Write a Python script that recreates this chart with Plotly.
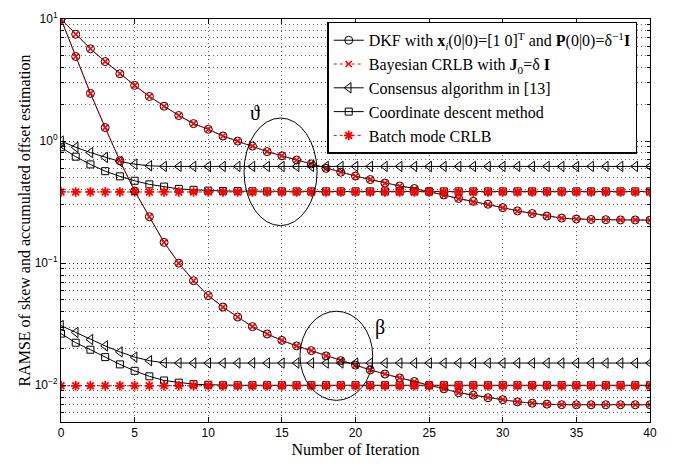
import plotly.graph_objects as go
import numpy as np

iters = list(range(0, 41))

# theta (skew) group
dkf_theta = [10, 7.5, 5.7, 4.48, 3.56, 2.86, 2.32, 1.93, 1.62, 1.39,
             1.25, 1.10, 1.0, 0.91, 0.82, 0.757, 0.70, 0.65, 0.598, 0.556,
             0.517, 0.484, 0.453, 0.429, 0.409, 0.387, 0.362, 0.339, 0.321, 0.304,
             0.285, 0.268, 0.255, 0.243, 0.234, 0.230, 0.228, 0.227, 0.226, 0.226, 0.225]
bcrlb_theta = [10, 7.5, 5.7, 4.48, 3.56, 2.86, 2.32, 1.93, 1.62, 1.39,
               1.25, 1.10, 1.0, 0.91, 0.82, 0.757, 0.70, 0.65, 0.598, 0.556,
               0.517, 0.484, 0.453, 0.429, 0.405, 0.385, 0.358, 0.336, 0.318, 0.302,
               0.284, 0.267, 0.254, 0.243, 0.234, 0.230, 0.228, 0.227, 0.226, 0.226, 0.225]
cons_theta = [1.0, 0.89, 0.805, 0.735, 0.68, 0.647, 0.628, 0.62] + [0.62] * 33
cd_theta = [0.89, 0.745, 0.644, 0.567, 0.514, 0.473, 0.442, 0.424, 0.406, 0.399,
            0.393, 0.390, 0.389, 0.388] + [0.387] * 27
batch_theta = [0.383] * 41

# beta (offset) group
dkf_beta = [10, 4.93, 2.46, 1.29, 0.69, 0.39, 0.24, 0.148, 0.100, 0.0718,
            0.0543, 0.0437, 0.0362, 0.0302, 0.0263, 0.0233, 0.0210, 0.0192, 0.0174, 0.0159,
            0.01462, 0.01336, 0.01236, 0.01148, 0.01074, 0.0100, 0.00935, 0.00869, 0.0083, 0.0079,
            0.00762, 0.00731, 0.00713, 0.0070, 0.00693, 0.00692, 0.00692, 0.00692, 0.00692, 0.00692, 0.00692]
bcrlb_beta = list(dkf_beta)
cons_beta = [0.0308, 0.0271, 0.0237, 0.0210, 0.01876, 0.0170, 0.0159, 0.01527] + [0.0152] * 33
cd_beta = [0.0265, 0.0223, 0.01955, 0.0170, 0.01482, 0.01313, 0.01183, 0.01094, 0.0105, 0.0102,
           0.0101] + [0.0100] * 30
batch_beta = [0.0099] * 41

y_tickvals = [0.01, 0.1, 1, 10]
y_ticktext = ["10<sup>−2</sup>", "10<sup>−1</sup>", "10<sup>0</sup>", "10<sup>1</sup>"]

serif = "Liberation Serif"
sans = "Liberation Sans"

fig = go.Figure()

def add(y, name, mode, line, marker, show):
    fig.add_trace(go.Scatter(x=iters, y=y, name=name, mode=mode, line=line,
                             marker=marker, showlegend=show, legendgroup=name))

lab_dkf = "DKF with <b>x</b><sub><i>i</i></sub>(0|0)=[1 0]<sup>T</sup> and <b>P</b>(0|0)=δ<sup>−1</sup><b>I</b>"
lab_bay = "Bayesian CRLB with <b>J</b><sub>0</sub>=δ <b>I</b>"
lab_con = "Consensus algorithm in [13]"
lab_cd = "Coordinate descent method"
lab_bat = "Batch mode CRLB"

blk = dict(color="black", width=1)
circ = dict(symbol="circle-open", size=8, color="black", line=dict(width=1))
tri = dict(symbol="triangle-left-open", size=9, color="black", line=dict(width=1))
sq = dict(symbol="square-open", size=7, color="black", line=dict(width=1))
xm = dict(symbol="x-thin-open", size=6, color="red", line=dict(width=1.6, color="red"))
ast = dict(symbol="asterisk-open", size=8, color="red", line=dict(width=1.8, color="red"))
red_dot = dict(color="red", width=1, dash="dot")

for grp, (dk, bc, co, cd, ba) in enumerate([(dkf_theta, bcrlb_theta, cons_theta, cd_theta, batch_theta),
                                             (dkf_beta, bcrlb_beta, cons_beta, cd_beta, batch_beta)]):
    show = grp == 0
    add(dk, lab_dkf, "lines+markers", blk, circ, show)
    add(bc, lab_bay, "lines+markers", red_dot, xm, show)
    add(co, lab_con, "lines+markers", blk, tri, show)
    add(cd, lab_cd, "lines+markers", blk, sq, show)
    add(ba, lab_bat, "lines+markers", red_dot, ast, show)

# ellipses and labels
fig.add_shape(type="circle", xref="x", yref="y", x0=12.43, x1=17.39, y0=0.203, y1=1.545,
              line=dict(color="black", width=1))
fig.add_shape(type="circle", xref="x", yref="y", x0=16.23, x1=21.17, y0=0.00752, y1=0.0404,
              line=dict(color="black", width=1))
fig.add_annotation(x=13.2, y=0.228, xref="x", yref="y", text="ϑ", showarrow=False,
                   font=dict(family=serif, size=20, color="black"))
fig.add_annotation(x=21.66, y=-1.525, xref="x", yref="y", text="β", showarrow=False,
                   font=dict(family=serif, size=20, color="black"))

gridc = "rgba(0,0,0,0.6)"
gdash = "1px,3px"
fig.update_xaxes(range=[0, 40], dtick=5, tick0=0, showline=True, mirror="allticks",
                 linecolor="black", linewidth=1, ticks="inside", ticklen=5, tickcolor="black",
                 showgrid=True, gridcolor=gridc, griddash=gdash, gridwidth=1, zeroline=False,
                 tickfont=dict(family=sans, size=12, color="black"),
                 title=dict(text="Number of Iteration", font=dict(family=serif, size=16, color="black"),
                            standoff=4))
fig.update_yaxes(type="log", range=[np.log10(0.005), 1], tickmode="array",
                 tickvals=y_tickvals, ticktext=y_ticktext,
                 showline=True, mirror="allticks", linecolor="black", linewidth=1,
                 ticks="inside", ticklen=5, tickcolor="black",
                 showgrid=True, gridcolor=gridc, griddash=gdash, gridwidth=1,
                 minor=dict(dtick="D1", ticks="inside", ticklen=3, tickcolor="black",
                            showgrid=True, gridcolor=gridc, griddash=gdash, gridwidth=1),
                 tickfont=dict(family=sans, size=12, color="black"),
                 title=dict(text="RAMSE of skew and accumulated offset estimation",
                            font=dict(family=serif, size=16, color="black"), standoff=0))

fig.update_layout(width=677, height=466, margin=dict(l=61, r=27, t=10, b=38),
                  plot_bgcolor="white", paper_bgcolor="white",
                  legend=dict(x=0.452, y=0.993, xanchor="left", yanchor="top",
                              bgcolor="white", bordercolor="black", borderwidth=1.5,
                              font=dict(family=serif, size=16, color="black"),
                              tracegroupgap=0, itemwidth=30))

fig.write_html("out.html")
